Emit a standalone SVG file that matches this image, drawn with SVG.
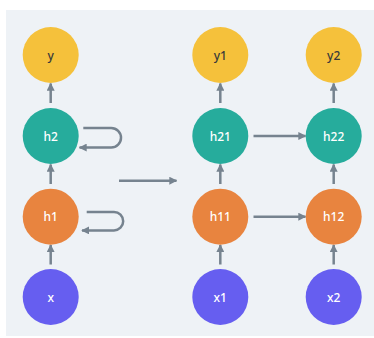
<svg xmlns="http://www.w3.org/2000/svg" width="374" height="338" viewBox="0 0 374 338">
<defs>
<marker id="ah" viewBox="0 0 10 10" refX="9" refY="5" markerWidth="3.2" markerHeight="3.2" orient="auto" markerUnits="strokeWidth">
<path d="M0,0 L10,5 L0,10 z" fill="#76838f"/>
</marker>
<style>
.y{fill:#f5c13b}.h2{fill:#26ac9c}.h1{fill:#e8843f}.x{fill:#665ef0}
text{font-family:"Noto Sans","Liberation Sans",sans-serif;font-size:12px;font-weight:500;text-anchor:middle;dominant-baseline:central}
.dk{fill:#3a3a3a}.wt{fill:#ffffff}
.c{stroke:#76838f;stroke-width:2.5;fill:none;marker-end:url(#ah)}
</style>
</defs>
<rect x="6" y="10" width="368" height="326" fill="#eef2f6"/>
<g id="connectors">
<path class="c" d="M50.7,103 V83.5"/>
<path class="c" d="M50.7,184 V164.5"/>
<path class="c" d="M50.7,264.5 V245"/>
<path class="c" d="M220.3,103 V83.5"/>
<path class="c" d="M220.3,184 V164.5"/>
<path class="c" d="M220.3,264.5 V245"/>
<path class="c" d="M333.7,103 V83.5"/>
<path class="c" d="M333.7,184 V164.5"/>
<path class="c" d="M333.7,264.5 V245"/>
<path class="c" d="M253.5,136 H305.5"/>
<path class="c" d="M253.5,216.7 H305.5"/>
<path class="c" d="M119,180.7 H176.5"/>
<path class="c" d="M83.3,128 H111.2 A9.8,9.8 0 0 1 111.2,147.6 H79.5"/>
<path class="c" d="M86.7,212 H114 A9.2,9.2 0 0 1 114,230.4 H82"/>
</g>
<g id="y"><circle class="y" cx="50.7" cy="55" r="28"/><text class="dk" x="50.7" y="55">y</text></g>
<g id="h2"><circle class="h2" cx="50.7" cy="136" r="28"/><text class="wt" x="50.7" y="136">h2</text></g>
<g id="h1"><circle class="h1" cx="50.7" cy="216.7" r="28"/><text class="wt" x="50.7" y="216.7">h1</text></g>
<g id="x"><circle class="x" cx="50.7" cy="297" r="28"/><text class="wt" x="50.7" y="297">x</text></g>
<g id="y1"><circle class="y" cx="220.3" cy="55" r="28"/><text class="dk" x="220.3" y="55">y1</text></g>
<g id="h21"><circle class="h2" cx="220.3" cy="136" r="28"/><text class="wt" x="220.3" y="136">h21</text></g>
<g id="h11"><circle class="h1" cx="220.3" cy="216.7" r="28"/><text class="wt" x="220.3" y="216.7">h11</text></g>
<g id="x1"><circle class="x" cx="220.3" cy="297" r="28"/><text class="wt" x="220.3" y="297">x1</text></g>
<g id="y2"><circle class="y" cx="333.7" cy="55" r="28"/><text class="dk" x="333.7" y="55">y2</text></g>
<g id="h22"><circle class="h2" cx="333.7" cy="136" r="28"/><text class="wt" x="333.7" y="136">h22</text></g>
<g id="h12"><circle class="h1" cx="333.7" cy="216.7" r="28"/><text class="wt" x="333.7" y="216.7">h12</text></g>
<g id="x2"><circle class="x" cx="333.7" cy="297" r="28"/><text class="wt" x="333.7" y="297">x2</text></g>
</svg>
